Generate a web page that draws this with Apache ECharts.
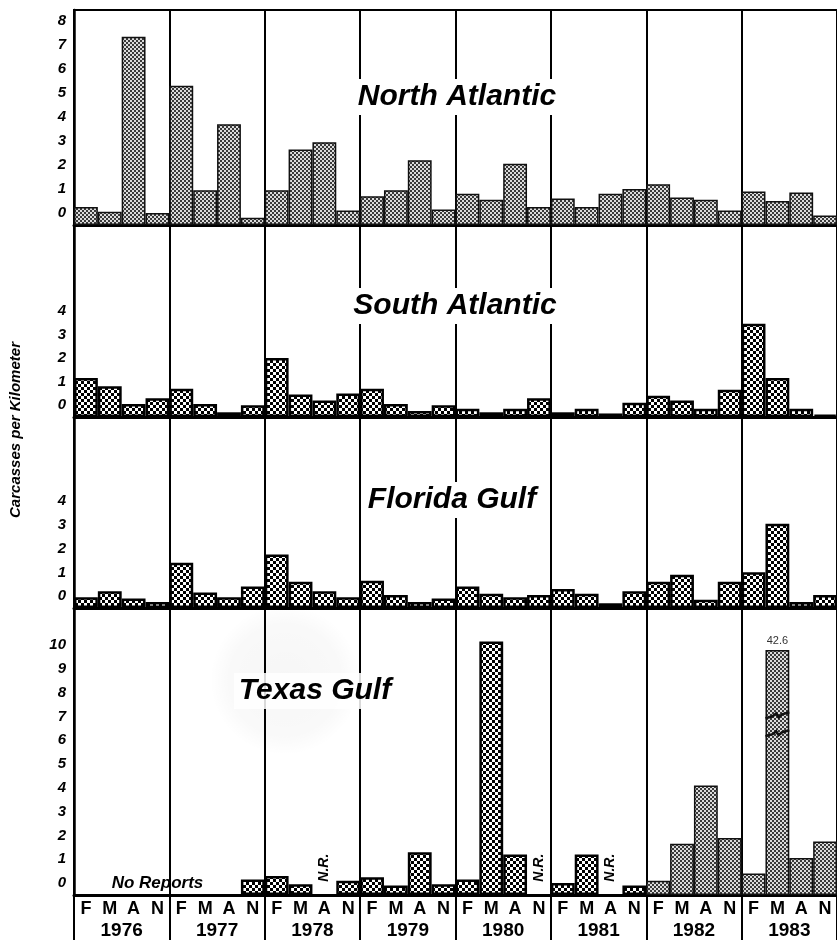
<!DOCTYPE html>
<html><head><meta charset="utf-8">
<script src="https://cdn.jsdelivr.net/npm/echarts@6/dist/echarts.min.js"></script>
<style>html,body{margin:0;padding:0;background:#fff}#c{width:837px;height:940px}</style>
</head><body><div id="c"></div>
<script>
// ---------- data ----------
const years  = ['1976','1977','1978','1979','1980','1981','1982','1983'];
const months = ['F','M','A','N'];
const regionNames = ['North Atlantic','South Atlantic','Florida Gulf','Texas Gulf'];

// carcasses per kilometer, one value per survey month (F, M, A, N) of each year
const northAtlantic = [
  0.25, 0.05, 7.35, 0.0,
  5.3, 0.95, 3.7, -0.2,
  0.95, 2.65, 2.95, 0.1,
  0.7, 0.95, 2.2, 0.15,
  0.8, 0.55, 2.05, 0.25,
  0.6, 0.25, 0.8, 1.0,
  1.2, 0.65, 0.55, 0.1,
  0.9, 0.5, 0.85, -0.1
];
const southAtlantic = [
  1.15, 0.8, 0.05, 0.3,
  0.7, 0.05, -0.3, 0.0,
  2.0, 0.45, 0.2, 0.5,
  0.7, 0.05, -0.25, 0.0,
  -0.15, -0.3, -0.15, 0.3,
  -0.3, -0.15, -0.35, 0.1,
  0.4, 0.2, -0.15, 0.65,
  3.45, 1.15, -0.15, -0.4
];
const floridaGulf = [
  -0.05, 0.2, -0.1, -0.25,
  1.4, 0.15, -0.05, 0.4,
  1.75, 0.6, 0.2, -0.05,
  0.65, 0.05, -0.25, -0.1,
  0.4, 0.1, -0.05, 0.05,
  0.3, 0.1, -0.3, 0.2,
  0.6, 0.9, -0.15, 0.6,
  1.0, 3.05, -0.25, 0.05
];
// null = no report (N.R.)
const texasGulf = [
  null, null, null, null,
  null, null, null, 0.15,
  0.3, -0.05, null, 0.1,
  0.25, -0.1, 1.3, -0.05,
  0.15, 10.15, 1.2, null,
  0.0, 1.2, null, -0.1,
  0.1, 1.65, 4.1, 1.9,
  0.4, 42.6, 1.05, 1.75
];
const yTickLabelMax = [8, 4, 4, 10];

// ---------- presentation constants ----------
const AXIS_BASE = -0.5;            // bars are drawn up from just below the "0" label
const AXIS_TOP = [8.46, 7.64, 7.54, 11.56];
const TX_BREAK_CAP = 9.8;          // off-scale bar is drawn broken at this height
const TX_BREAK_MARKS = [7.05, 6.3];
const NR_LABEL_LEVEL = 0.65;
const LIGHT_FROM_YEAR = 6;         // Texas bars from 1982 on use the light screen
const FONT = '"Liberation Sans", Arial, sans-serif';

const allSeries = [northAtlantic, southAtlantic, floridaGulf, texasGulf];
const categories = [];
years.forEach(y => months.forEach(m => categories.push(m)));

function pattern(size, cell, dark, light) {
  const c = document.createElement('canvas');
  c.width = c.height = size;
  const g = c.getContext('2d');
  g.fillStyle = light; g.fillRect(0, 0, size, size);
  g.fillStyle = dark;
  for (let y = 0; y < size; y += cell)
    for (let x = 0; x < size; x += cell)
      if (((x / cell) + (y / cell)) % 2 === 0) g.fillRect(x, y, cell, cell);
  return { image: c, repeat: 'repeat' };
}
const lightStyle = { color: pattern(4, 2, '#3a3a3a', '#dcdcdc'), borderColor: '#111', borderWidth: 1.5 };
const boldStyle  = { color: pattern(6, 3, '#000000', '#ffffff'), borderColor: '#000', borderWidth: 2.5 };

const yearBoundary = (idx) => idx % 4 === 0;
const panelTops = [10, 225, 417, 608];
const panelHeights = [215, 192, 191, 287];

const chart = echarts.init(document.getElementById('c'), null, { renderer: 'canvas' });

const grids = panelTops.map((t, i) => ({
  left: 74, width: 766, top: t, height: panelHeights[i],
  show: i === 0, borderColor: '#000', borderWidth: 2, backgroundColor: 'transparent'
}));

const xAxes = panelTops.map((t, i) => ({
  type: 'category', gridIndex: i, data: categories, boundaryGap: true,
  axisLine: { show: true, onZero: false, lineStyle: { color: '#000', width: 3 } },
  axisTick: { show: i === 3, interval: yearBoundary, length: 45, lineStyle: { color: '#000', width: 2 } },
  axisLabel: { show: i === 3, interval: 0, margin: 5, color: '#000', fontFamily: FONT, fontWeight: 'bold', fontSize: 18 },
  splitLine: { show: true, interval: yearBoundary, lineStyle: { color: '#000', width: 2 } }
}));
xAxes.push({
  type: 'category', gridIndex: 3, data: years, position: 'bottom', offset: 20,
  axisLine: { show: false }, axisTick: { show: false }, splitLine: { show: false },
  axisLabel: { interval: 0, margin: 6, color: '#000', fontFamily: FONT, fontWeight: 'bold', fontSize: 19 }
});

const yAxes = panelTops.map((t, i) => ({
  type: 'value', gridIndex: i, min: AXIS_BASE, max: AXIS_TOP[i], interval: 0.5, startValue: AXIS_BASE,
  splitLine: { show: false }, axisTick: { show: false },
  axisLine: { show: true, lineStyle: { color: '#000', width: 2.5 } },
  axisLabel: {
    margin: 8, color: '#000', fontFamily: FONT, fontWeight: 'bold', fontStyle: 'italic', fontSize: 15,
    showMinLabel: true, showMaxLabel: true,
    formatter: v => (Number.isInteger(v) && v >= 0 && v <= yTickLabelMax[i]) ? String(v) : ''
  }
}));

const isOffScale = (v) => v !== null && v > AXIS_TOP[3];

const series = allSeries.map((vals, i) => ({
  type: 'bar', name: regionNames[i], xAxisIndex: i, yAxisIndex: i,
  barCategoryGap: '0%', barGap: '0%', z: 2,
  data: vals.map((v, k) => {
    if (v === null) return null;
    const light = i === 0 || (i === 3 && Math.floor(k / 4) >= LIGHT_FROM_YEAR);
    const item = { value: v, itemStyle: light ? lightStyle : boldStyle };
    if (i === 3 && isOffScale(v)) {
      item.value = TX_BREAK_CAP;
      item.label = { show: true, position: 'top', distance: 3, formatter: String(v),
                     color: '#333', fontFamily: FONT, fontSize: 11 };
    }
    return item;
  })
}));

chart.setOption({
  animation: false,
  backgroundColor: '#fff',
  grid: grids, xAxis: xAxes, yAxis: yAxes, series: series
});

// ---------- annotations ----------
const titleFont = { fontFamily: FONT, fontWeight: 'bold', fontStyle: 'italic', fontSize: 30, fill: '#000',
                    backgroundColor: '#fff', padding: [3, 5] };
const titlePos = [[457, 97], [455, 306], [452, 500], [315, 691]];
const graphics = [];
graphics.push({
  type: 'ellipse', z: 1, silent: true,
  shape: { cx: 285, cy: 680, rx: 80, ry: 75 },
  style: { fill: { type: 'radial', x: 0.5, y: 0.5, r: 0.5,
    colorStops: [{ offset: 0, color: 'rgba(0,0,0,0.035)' }, { offset: 0.75, color: 'rgba(0,0,0,0.025)' }, { offset: 1, color: 'rgba(0,0,0,0)' }] } }
});
regionNames.forEach((name, i) => {
  graphics.push({
    type: 'text', z: 50, x: titlePos[i][0], y: titlePos[i][1],
    style: Object.assign({ text: name, align: 'center', verticalAlign: 'middle',
                           textAlign: 'center', textVerticalAlign: 'middle' }, titleFont,
                         i === 3 ? { backgroundColor: 'rgba(255,255,255,0.85)' } : {})
  });
});
graphics.push({
  type: 'text', z: 50, x: 16, y: 430, rotation: Math.PI / 2,
  style: { text: 'Carcasses per Kilometer', align: 'center', verticalAlign: 'middle',
           textAlign: 'center', textVerticalAlign: 'middle',
           fontFamily: FONT, fontWeight: 'bold', fontStyle: 'italic', fontSize: 15, fill: '#000' }
});

const finder = { xAxisIndex: 3, yAxisIndex: 3 };
// "No Reports" across the unreported 1976-77 months
const firstReported = texasGulf.findIndex(v => v !== null);
const nrRunCenter = (firstReported - 1) / 2;
const pNo = chart.convertToPixel(finder, [Math.round(nrRunCenter), 0]);
graphics.push({
  type: 'text', z: 50, x: pNo[0], y: pNo[1],
  style: { text: 'No Reports', align: 'center', verticalAlign: 'middle', textAlign: 'center', textVerticalAlign: 'middle',
           fontFamily: FONT, fontWeight: 'bold', fontStyle: 'italic', fontSize: 17, fill: '#000' }
});
// N.R. marks for isolated missing months
texasGulf.forEach((v, k) => {
  if (v === null && k >= firstReported) {
    const p = chart.convertToPixel(finder, [k, NR_LABEL_LEVEL]);
    graphics.push({
      type: 'text', z: 50, x: p[0], y: p[1], rotation: Math.PI / 2,
      style: { text: 'N.R.', align: 'center', verticalAlign: 'middle', textAlign: 'center', textVerticalAlign: 'middle',
               fontFamily: FONT, fontWeight: 'bold', fontStyle: 'italic', fontSize: 14, fill: '#000' }
    });
  }
});
// break marks on the off-scale bar
texasGulf.forEach((v, k) => {
  if (isOffScale(v)) {
    const a = chart.convertToPixel(finder, [k, 0]);
    const b = chart.convertToPixel(finder, [k + 1, 0]);
    const half = (b[0] - a[0]) / 2;
    TX_BREAK_MARKS.forEach(level => {
      const p = chart.convertToPixel(finder, [k, level]);
      const x0 = p[0] - half, x1 = p[0] + half, y = p[1];
      graphics.push({
        type: 'polyline', z: 40, silent: true,
        shape: { points: [[x0, y + 3], [x0 + half * 0.6, y + 1], [x0 + half * 0.9, y - 2], [x0 + half * 1.1, y + 2],
                          [x0 + half * 1.4, y - 1], [x1, y - 3]] },
        style: { stroke: '#111', lineWidth: 2.5, fill: null }
      });
    });
  }
});
chart.setOption({ graphic: graphics });
</script>
</body></html>
